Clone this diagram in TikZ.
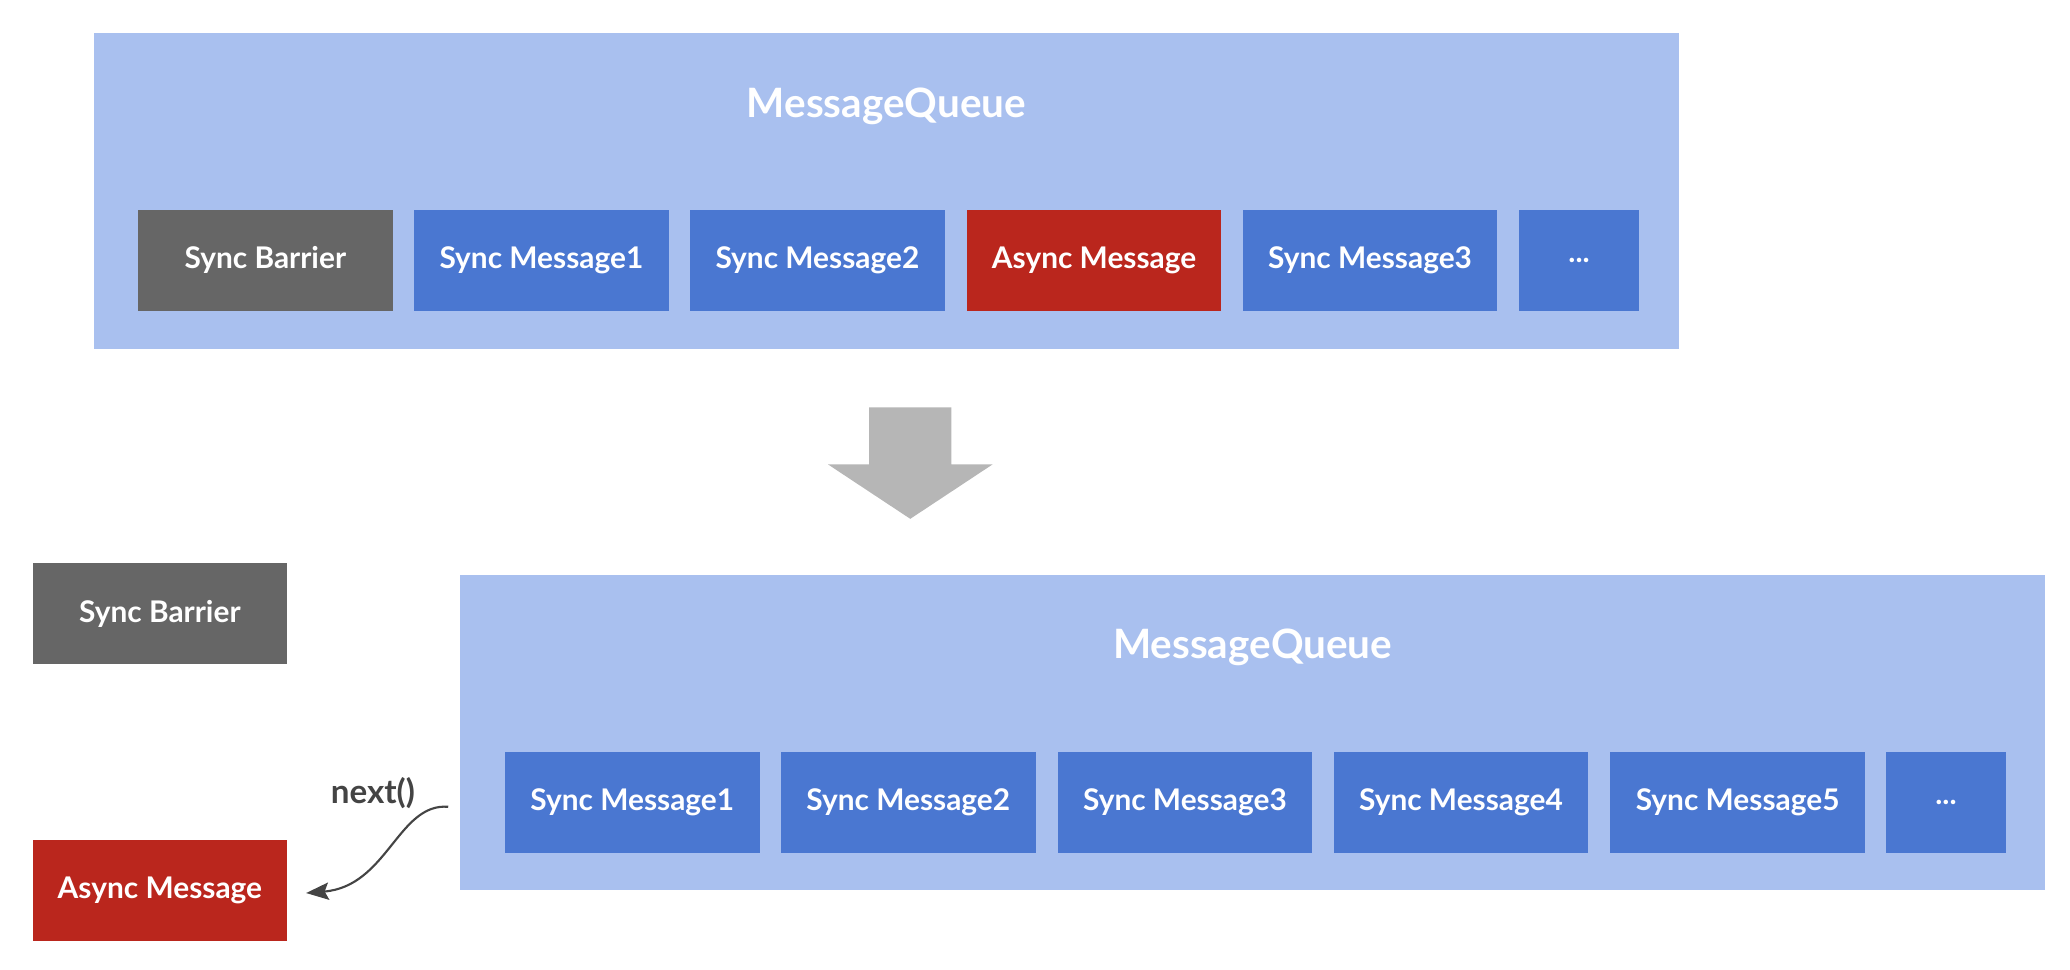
\documentclass[tikz,border=0pt]{standalone}
\usepackage{fontspec}
\setmainfont{Lato}
\usetikzlibrary{arrows.meta,calc}
\definecolor{qbg}{HTML}{A9C0EF}
\definecolor{qblue}{HTML}{4A77D1}
\definecolor{qgray}{HTML}{666666}
\definecolor{qred}{HTML}{BA261D}
\definecolor{agray}{HTML}{B6B6B6}
\definecolor{tdark}{HTML}{444444}
\begin{document}
\begin{tikzpicture}[x=1pt,y=-1pt,
  outer/.style={fill=qbg, draw=none, minimum width=1194pt, minimum height=238pt, inner sep=0pt},
  qtitle/.style={text=white, font=\bfseries\fontsize{30.5}{30.5}\selectfont, inner sep=0pt},
  msg/.style={fill=qblue, draw=none, minimum width=192pt, minimum height=76pt, inner sep=0pt, text=white, font=\bfseries\fontsize{22.5}{22.5}\selectfont},
  dots/.style={msg, minimum width=90pt},
  barrier/.style={msg, fill=qgray},
  async/.style={msg, fill=qred},
  bigarrow/.style={fill=agray, draw=none},
  nextline/.style={draw=tdark, line width=1.6pt, -{Stealth[length=17pt,width=13pt,inset=3pt]}}
]
\useasboundingbox (0,0) rectangle (1560,731);
% top queue
\node[outer] (tq) at (668,144) {};
\node[qtitle] (tt) at (668,80) {MessageQueue};
\node[barrier] (t1) at (200,196) {Sync Barrier};
\node[msg] (t2) at (408,196) {Sync Message1};
\node[msg] (t3) at (616,196) {Sync Message2};
\node[async] (t4) at (824.5,196) {Async Message};
\node[msg] (t5) at (1032.5,196) {Sync Message3};
\node[dots] (t6) at (1190,196) {...};
% big arrow
\fill[bigarrow] (655,307) -- (717,307) -- (717,350) -- (748,350) -- (686,391) -- (624,350) -- (655,350) -- cycle;
% bottom
\node[barrier] (sb) at (120.5,462.5) {Sync Barrier};
\node[async] (am) at (120.5,671) {Async Message};
\node[outer] (bq) at (944,552) {};
\node[qtitle] (bt) at (944,488) {MessageQueue};
\node[msg] (b1) at (476.5,604.5) {Sync Message1};
\node[msg] (b2) at (684.5,604.5) {Sync Message2};
\node[msg] (b3) at (893,604.5) {Sync Message3};
\node[msg] (b4) at (1101,604.5) {Sync Message4};
\node[msg] (b5) at (1309.5,604.5) {Sync Message5};
\node[dots] (b6) at (1466.5,604.5) {...};
% next() connector
\coordinate (cs) at ($(bq.west)+(-9,56)$);
\coordinate (ce) at ($(am.east)+(14,2)$);
\draw[nextline] (cs) .. controls (300,605) and (292,668) .. (ce);
\node[text=tdark, font=\bfseries\fontsize{25}{25}\selectfont, inner sep=0pt] (nl) at (281,598) {next()};
\end{tikzpicture}
\end{document}
